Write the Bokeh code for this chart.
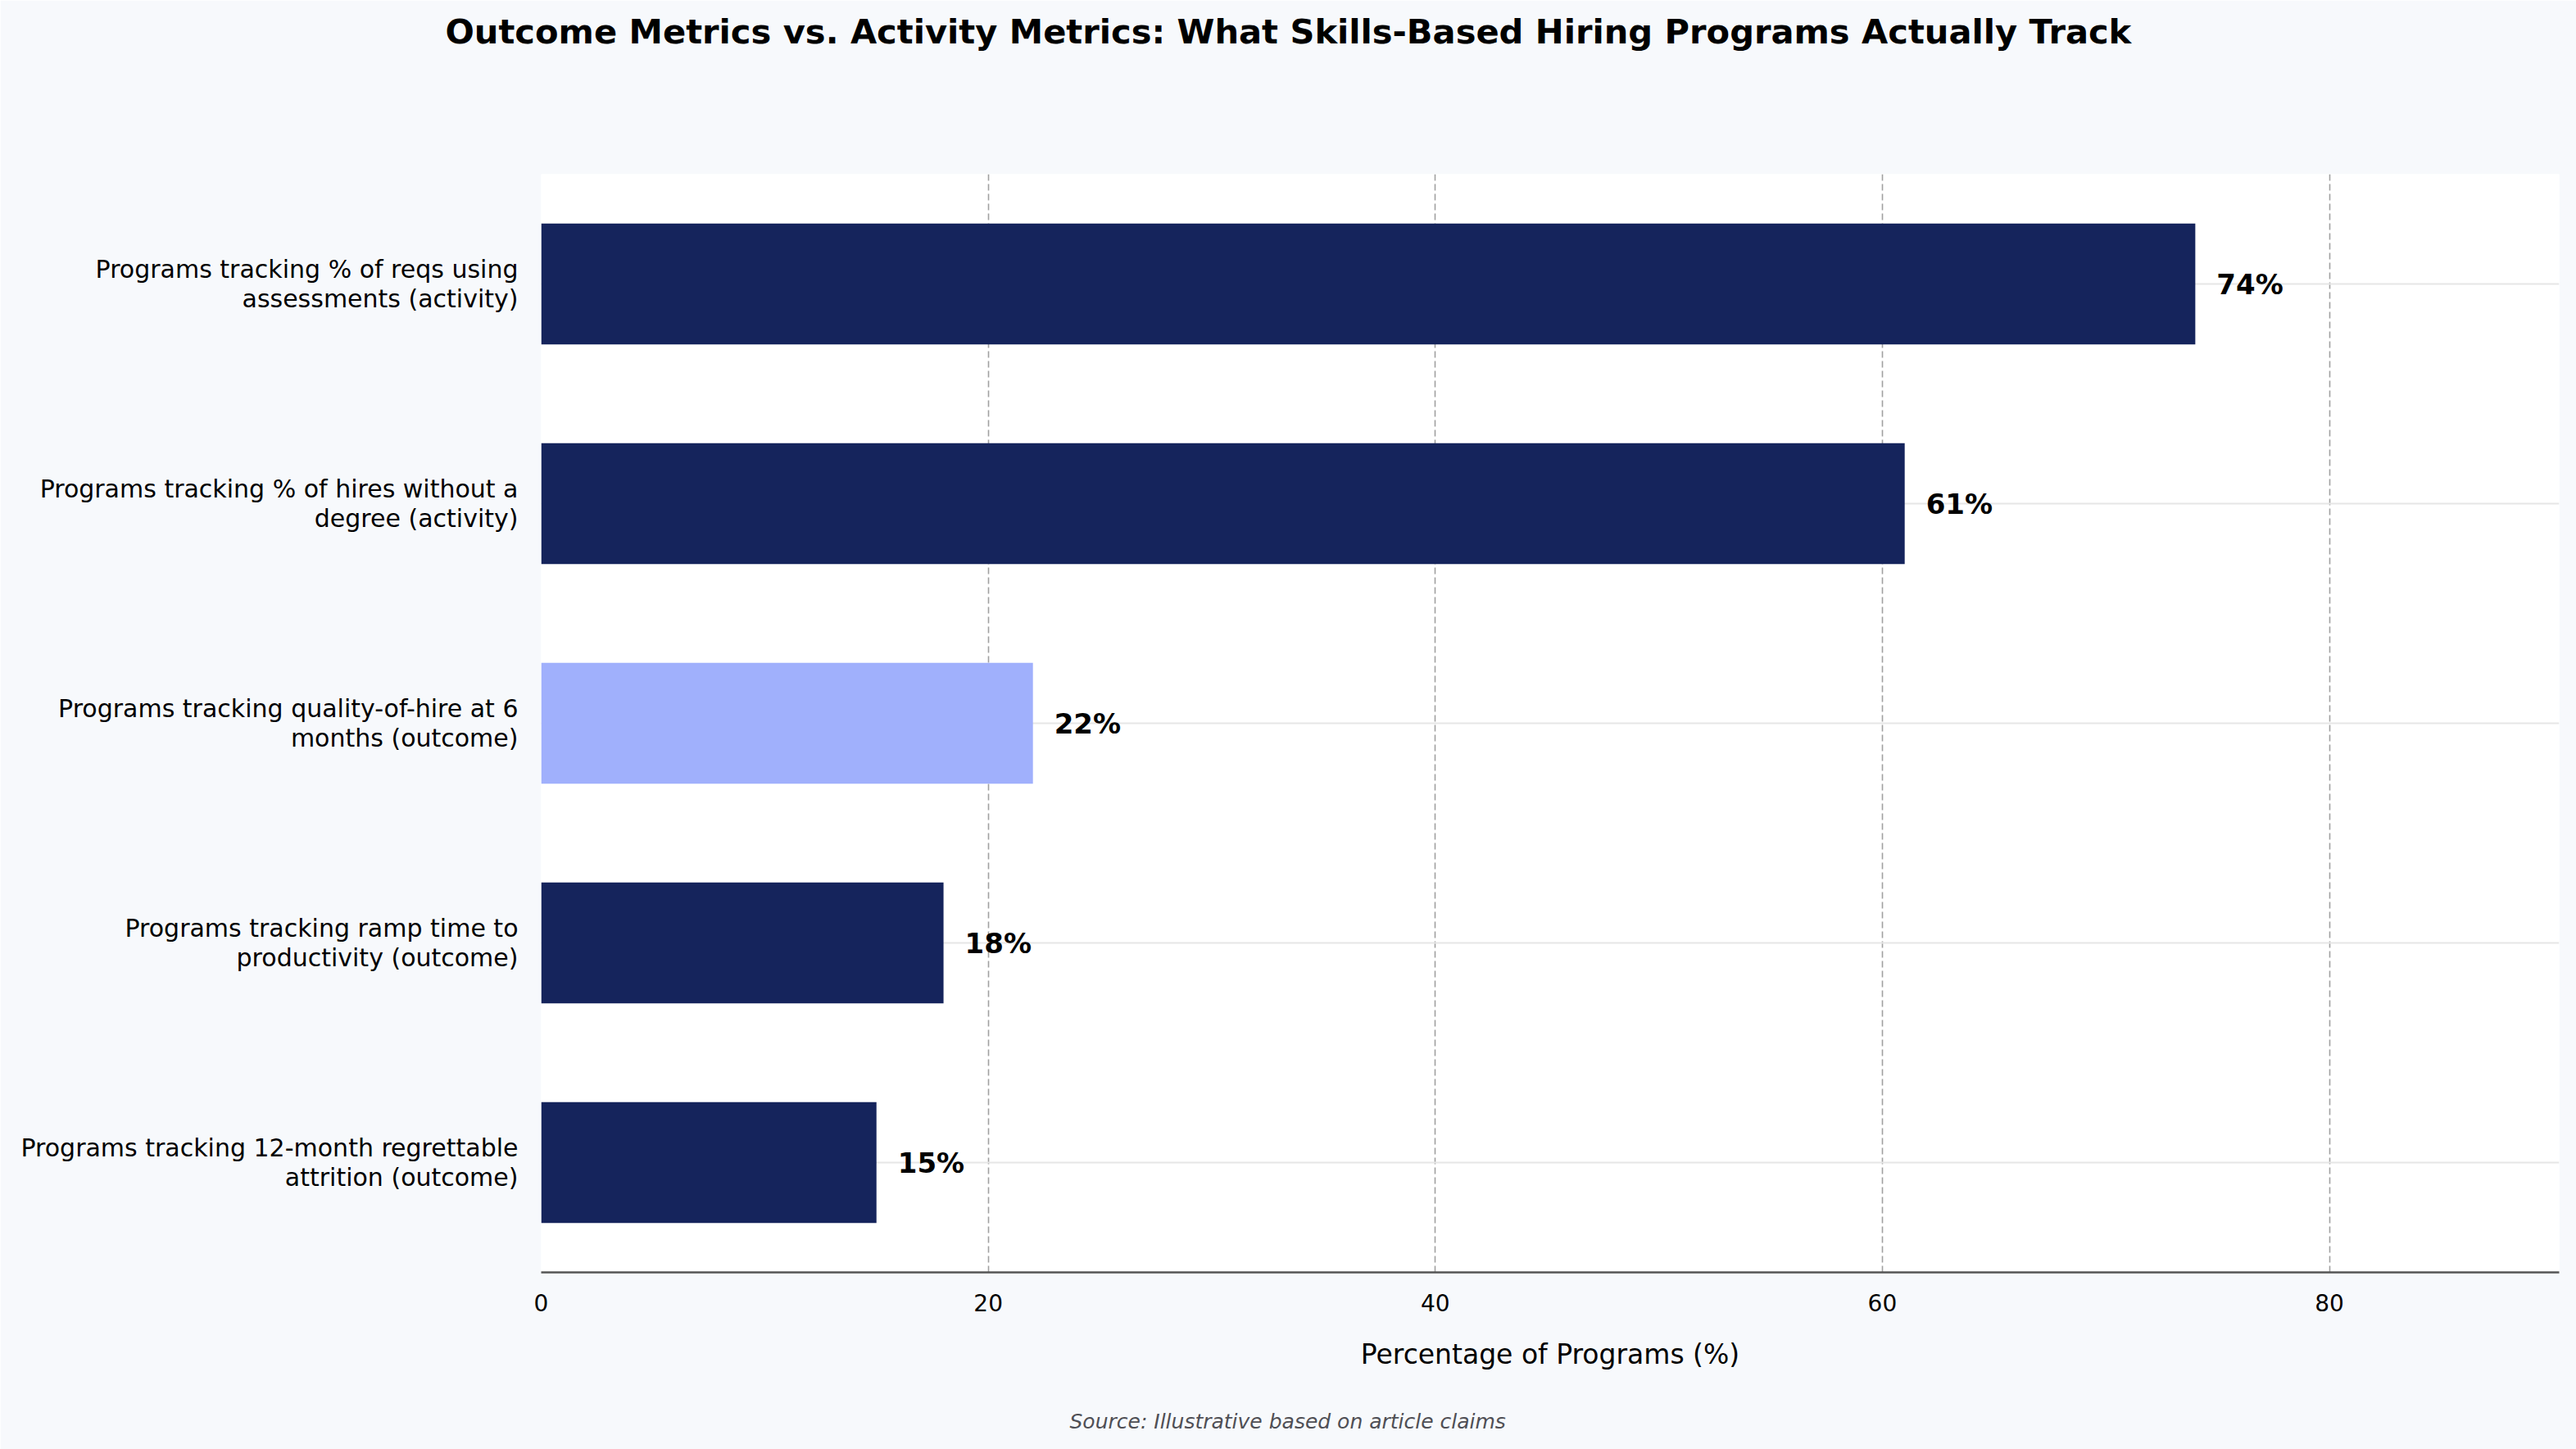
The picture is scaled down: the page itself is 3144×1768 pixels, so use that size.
from bokeh.plotting import figure
from bokeh.models import ColumnDataSource, FactorRange, Range1d, Title, FixedTicker
from bokeh.core.properties import value
from bokeh.embed import file_html
from bokeh.resources import INLINE

# Metrics, listed from top to bottom
categories = [
    "Programs tracking % of reqs using\nassessments (activity)",
    "Programs tracking % of hires without a\ndegree (activity)",
    "Programs tracking quality-of-hire at 6\nmonths (outcome)",
    "Programs tracking ramp time to\nproductivity (outcome)",
    "Programs tracking 12-month regrettable\nattrition (outcome)",
]
percentages = [74, 61, 22, 18, 15]
bar_colors = ["#15245c", "#15245c", "#a0b0fc", "#15245c", "#15245c"]
x_ticks = [0, 20, 40, 60, 80]

FONT = "DejaVu Sans"
BG = "#f7f9fc"

W, H = 3144, 1768
BORDER_LEFT, BORDER_RIGHT, BORDER_TOP, BORDER_BOTTOM = 660, 21, 212, 216

source = ColumnDataSource(dict(
    cat=categories,
    val=percentages,
    color=bar_colors,
    label=[f"{v}%" for v in percentages],
))

p = figure(
    width=W, height=H,
    output_backend="svg", toolbar_location=None,
    x_range=Range1d(0, max(percentages) * 1.22),
    y_range=FactorRange(factors=list(reversed(categories)), range_padding=0),
    min_border_left=BORDER_LEFT, min_border_right=BORDER_RIGHT,
    min_border_top=BORDER_TOP, min_border_bottom=BORDER_BOTTOM,
)
p.background_fill_color = "white"
p.border_fill_color = BG
p.outline_line_color = None

p.hbar(y="cat", left=0, right="val", height=0.55, fill_color="color",
       line_color=None, source=source)

p.text(x="val", y="cat", text="label", source=source, x_offset=26,
       text_align="left", text_baseline="middle",
       text_font=value(FONT), text_font_style="bold",
       text_font_size="34px", text_color="black")

# grids
p.xgrid.ticker = FixedTicker(ticks=x_ticks)
p.xgrid.grid_line_color = "#a0a0a0"
p.xgrid.grid_line_dash = "8 4"
p.xgrid.grid_line_width = 1.6
p.ygrid.grid_line_color = "#e6e6e6"
p.ygrid.grid_line_width = 2

# x axis
p.xaxis.ticker = FixedTicker(ticks=x_ticks)
p.xaxis.axis_line_color = "#555555"
p.xaxis.axis_line_width = 2.5
p.xaxis.major_tick_line_color = None
p.xaxis.minor_tick_line_color = None
p.xaxis.major_label_text_font = FONT
p.xaxis.major_label_text_font_size = "28px"
p.xaxis.major_label_text_color = "black"
p.xaxis.major_label_standoff = 20
p.xaxis.axis_label = "Percentage of Programs (%)"
p.xaxis.axis_label_text_font = FONT
p.xaxis.axis_label_text_font_style = "normal"
p.xaxis.axis_label_text_font_size = "33px"
p.xaxis.axis_label_text_color = "black"
p.xaxis.axis_label_standoff = 30

# y axis
p.yaxis.axis_line_color = None
p.yaxis.major_tick_line_color = None
p.yaxis.minor_tick_line_color = None
p.yaxis.major_label_text_font = FONT
p.yaxis.major_label_text_font_size = "30px"
p.yaxis.major_label_text_line_height = 1.05
p.yaxis.major_label_text_color = "black"
p.yaxis.major_label_standoff = 22


def spacer(height):
    # blank panel entry that pushes the next title further from the frame
    return Title(text=" ", text_font_size="1px", standoff=height - 3)


# title near the top edge, centred on the whole canvas
# (title offsets are measured from the frame's left edge)
p.add_layout(spacer(150), "above")
p.add_layout(Title(
    text="Outcome Metrics vs. Activity Metrics: What Skills-Based Hiring Programs Actually Track",
    text_font=FONT, text_font_style="bold", text_font_size="41.6px",
    text_color="black", align="left", offset=543 - BORDER_LEFT,
    vertical_align="bottom", standoff=0,
), "above")

# source note near the bottom edge
p.add_layout(spacer(45), "below")
p.add_layout(Title(
    text="Source: Illustrative based on article claims",
    text_font=FONT, text_font_style="italic", text_font_size="25px",
    text_color="#4f4f55", align="left", offset=1305 - BORDER_LEFT,
    vertical_align="top", standoff=0,
), "below")

open("out.html", "w").write(file_html(p, INLINE))
